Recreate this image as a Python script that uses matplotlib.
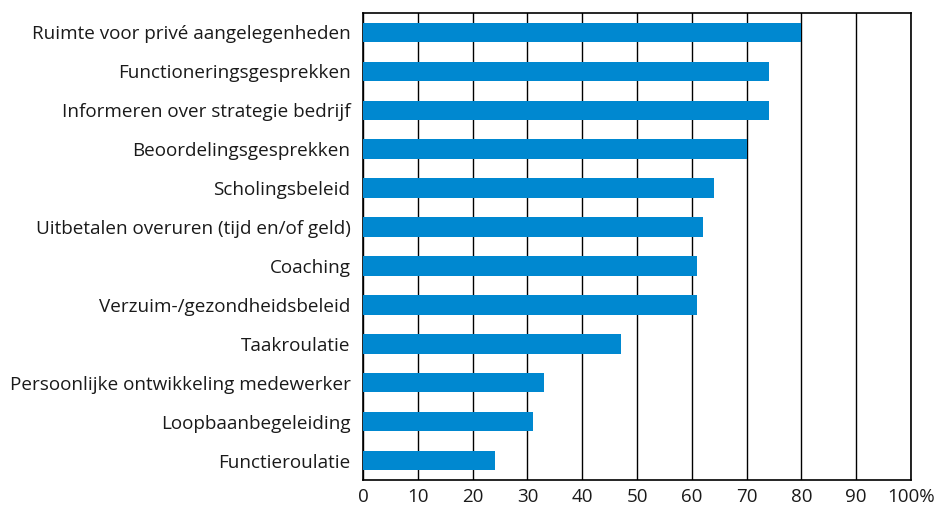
import matplotlib.pyplot as plt

categories = [
    "Ruimte voor privé aangelegenheden",
    "Functioneringsgesprekken",
    "Informeren over strategie bedrijf",
    "Beoordelingsgesprekken",
    "Scholingsbeleid",
    "Uitbetalen overuren (tijd en/of geld)",
    "Coaching",
    "Verzuim-/gezondheidsbeleid",
    "Taakroulatie",
    "Persoonlijke ontwikkeling medewerker",
    "Loopbaanbegeleiding",
    "Functieroulatie",
]
values = [80, 74, 74, 70, 64, 62, 61, 61, 47, 33, 31, 24]
xticks = [0, 10, 20, 30, 40, 50, 60, 70, 80, 90, 100]
xticklabels = ["0", "10", "20", "30", "40", "50", "60", "70", "80", "90", "100%"]

plt.rcParams['font.family'] = ['Open Sans', 'DejaVu Sans']

fig = plt.figure(figsize=(9.39, 5.08), dpi=100)
ax = fig.add_axes([363 / 939, 28 / 508, 548 / 939, 467 / 508])

ypos = list(range(len(categories)))
ax.barh(ypos, values, height=0.5, color='#0088D0', zorder=3)

ax.set_xlim(0, 100)
ax.set_ylim(len(categories) - 0.5, -0.5)
ax.set_yticks(ypos)
ax.set_yticklabels(categories, fontsize=13.6, color='#1a1a1a')
ax.set_xticks(xticks)
ax.set_xticklabels(xticklabels, fontsize=13.5, color='#1a1a1a')
ax.tick_params(length=0)
ax.tick_params(axis='x', pad=6)
ax.tick_params(axis='y', pad=9)

ax.grid(axis='x', color='black', linewidth=1.0, zorder=1)
for s in ax.spines.values():
    s.set_color('black')
    s.set_linewidth(1.2)

fig.savefig('out.png', dpi=100)
